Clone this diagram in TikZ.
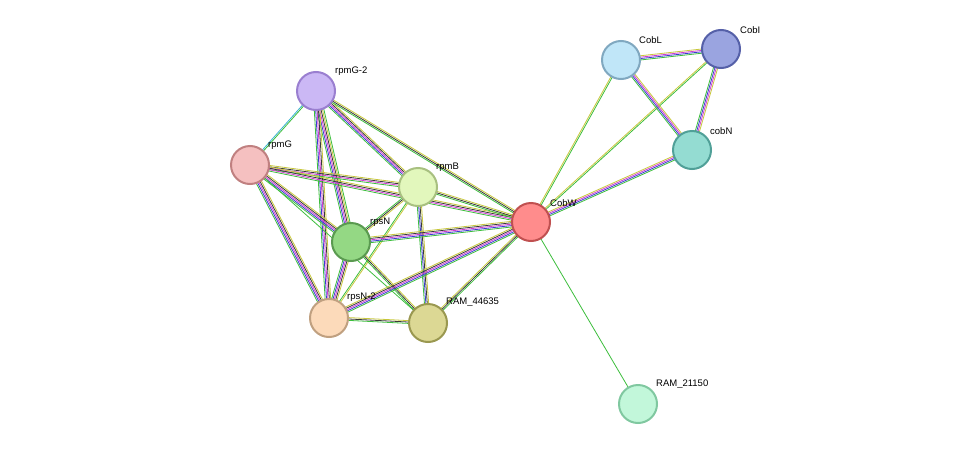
\documentclass[tikz,border=0pt]{standalone}
\usepackage{fontspec}
\setmainfont{Liberation Sans}
\usetikzlibrary{calc,backgrounds}
\definecolor{eg}{HTML}{3CBE3C}
\definecolor{ey}{HTML}{C8C83C}
\definecolor{eb}{HTML}{3C3CD2}
\definecolor{em}{HTML}{D23CD2}
\definecolor{ek}{HTML}{3A3A3A}
\definecolor{ec}{HTML}{3CB4D2}
\definecolor{f1}{HTML}{CBB8F5}\definecolor{d1}{HTML}{9A7FD0}
\definecolor{f2}{HTML}{F5C0C0}\definecolor{d2}{HTML}{C08080}
\definecolor{f3}{HTML}{E2F7BC}\definecolor{d3}{HTML}{A8C080}
\definecolor{f4}{HTML}{94D884}\definecolor{d4}{HTML}{5A9A50}
\definecolor{f5}{HTML}{FCDABA}\definecolor{d5}{HTML}{C0A080}
\definecolor{f6}{HTML}{DCD894}\definecolor{d6}{HTML}{9A9850}
\definecolor{f7}{HTML}{FF8C8C}\definecolor{d7}{HTML}{C05050}
\definecolor{f8}{HTML}{C0E6F8}\definecolor{d8}{HTML}{80A8C0}
\definecolor{f9}{HTML}{9AA4E0}\definecolor{d9}{HTML}{5560A8}
\definecolor{f10}{HTML}{94DCD2}\definecolor{d10}{HTML}{50A098}
\definecolor{f11}{HTML}{C2F7DA}\definecolor{d11}{HTML}{80C8A0}
\newcommand\edg[4]{%
  \foreach \c [count=\i] in {#4} {%
    \pgfmathsetmacro\o{(\i-(#3+1)/2)*1.4}%
    \draw[\c, line width=0.8pt] ($(#1)!\o pt!90:(#2)$) -- ($(#2)!\o pt!-90:(#1)$);
  }}
\tikzset{
  prot/.style={circle, minimum size=38pt, inner sep=0pt, line width=2pt, fill=f#1, draw=d#1},
  lab/.style={font=\fontsize{9.5}{11}\selectfont, anchor=south west, inner sep=1pt}
}
\begin{document}
\begin{tikzpicture}[x=1pt,y=-1pt]
\useasboundingbox (0,0) rectangle (976,450);
\node[prot=1] (rpmG2) at (316,91) {};
\node[prot=2] (rpmG) at (250,165) {};
\node[prot=3] (rpmB) at (418,187) {};
\node[prot=4] (rpsN) at (351,242) {};
\node[prot=5] (rpsN2) at (329,318) {};
\node[prot=6] (ram44) at (428,323) {};
\node[prot=7] (cobW) at (531,222) {};
\node[prot=8] (cobL) at (621,60) {};
\node[prot=9] (cobI) at (721,49) {};
\node[prot=10] (cobN) at (692,150) {};
\node[prot=11] (ram21) at (638,404) {};
\node[lab] (l1) at (334,77) {rpmG-2};
\node[lab] (l2) at (267,151) {rpmG};
\node[lab] (l3) at (435,173) {rpmB};
\node[lab] (l4) at (369,228) {rpsN};
\node[lab] (l5) at (346,303) {rpsN-2};
\node[lab] (l6) at (445,308) {RAM\_44635};
\node[lab] (l7) at (549,208) {CobW};
\node[lab] (l8) at (638,45) {CobL};
\node[lab] (l9) at (739,35) {CobI};
\node[lab] (l10) at (709,136) {cobN};
\node[lab] (l11) at (655,390) {RAM\_21150};
\begin{pgfonlayer}{background}
\fill[white] (0,0) rectangle (976,450);
\edg{rpmG2}{rpmG}{2}{ec,eg}
\edg{rpmG2}{rpmB}{5}{eg,eb,em,ek,ey}
\edg{rpmG2}{rpsN}{6}{eg,eb,em,ek,ey,eg}
\edg{rpmG2}{rpsN2}{5}{eg,eb,em,ek,ey}
\edg{rpmG2}{cobW}{3}{eg,ek,ey}
\edg{rpmG}{rpmB}{4}{eg,em,ek,ey}
\edg{rpmG}{rpsN}{5}{eg,eb,em,ek,ey}
\edg{rpmG}{rpsN2}{5}{eg,eb,em,ek,ey}
\edg{rpmG}{cobW}{4}{eg,em,ek,ey}
\edg{rpmG}{ram44}{1}{eg}
\edg{rpmB}{rpsN}{3}{eg,ek,ey}
\edg{rpmB}{rpsN2}{2}{eg,ey}
\edg{rpmB}{ram44}{4}{eg,eb,ek,ey}
\edg{rpmB}{cobW}{3}{eg,ek,ey}
\edg{rpsN}{rpsN2}{5}{eg,eb,em,ek,ey}
\edg{rpsN}{ram44}{3}{eg,ek,ey}
\edg{rpsN}{cobW}{5}{eg,eb,em,ek,ey}
\edg{rpsN2}{ram44}{3}{eg,ek,ey}
\edg{rpsN2}{cobW}{5}{eg,eb,em,ek,ey}
\edg{ram44}{cobW}{3}{eg,ek,ey}
\edg{cobW}{cobL}{2}{eg,ey}
\edg{cobW}{cobI}{2}{eg,ey}
\edg{cobW}{cobN}{4}{eg,eb,em,ey}
\edg{cobW}{ram21}{1}{eg}
\edg{cobL}{cobI}{4}{eg,eb,em,ey}
\edg{cobL}{cobN}{4}{eg,eb,em,ey}
\edg{cobI}{cobN}{4}{eg,eb,em,ey}
\end{pgfonlayer}
\end{tikzpicture}
\end{document}
